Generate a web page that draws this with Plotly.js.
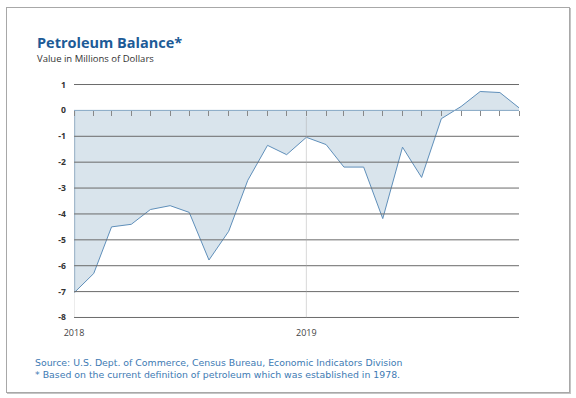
<!DOCTYPE html>
<html>
<head>
<meta charset="utf-8">
<script src="https://cdn.plot.ly/plotly-3.0.1.min.js"></script>
<style>
  html, body { margin: 0; padding: 0; background: #fff; }
  #wrap { position: relative; width: 576px; height: 398px; }
  #chart { position: absolute; left: 0; top: 0; width: 576px; height: 398px; }
  #frame { position: absolute; left: 6px; top: 7px; width: 562px; height: 384px;
           border: 1px solid #a8a8a8; box-shadow: 1px 1px 0 #c4c4c4; pointer-events: none; }
</style>
</head>
<body>
<div id="wrap">
  <div id="chart"></div>
  <div id="frame"></div>
</div>
<script>
// ---- data ----
const months = ['2018-01-01','2018-02-01','2018-03-01','2018-04-01','2018-05-01','2018-06-01',
                '2018-07-01','2018-08-01','2018-09-01','2018-10-01','2018-11-01','2018-12-01',
                '2019-01-01','2019-02-01','2019-03-01','2019-04-01','2019-05-01','2019-06-01',
                '2019-07-01','2019-08-01','2019-09-01','2019-10-01','2019-11-01','2019-12-01'];
const balance = [-7.05, -6.3, -4.5, -4.4, -3.83, -3.68, -3.94, -5.78, -4.67, -2.7, -1.35, -1.71,
                 -1.04, -1.32, -2.19, -2.19, -4.18, -1.42, -2.59, -0.32, 0.15, 0.73, 0.69, 0.1];
const yTicks = [1, 0, -1, -2, -3, -4, -5, -6, -7, -8];
const yearTicks = ['2018-01-01', '2019-01-01'];
const yearLabels = ['2018', '2019'];

// ---- layout helpers ----
const W = 576, H = 398;
const M = {l: 74, r: 57, t: 84, b: 80};
const px = x => (x - M.l) / (W - M.l - M.r);
const py = y => 1 - (y - M.t) / (H - M.t - M.b);
const FONT = 'Open Sans, Noto Sans, sans-serif';
const FOOT_FONT = 'DejaVu Sans, Open Sans, sans-serif';

const traces = [
  {
    x: months, y: balance, type: 'scatter', mode: 'lines',
    fill: 'tozeroy', fillcolor: '#d9e4ec',
    line: {color: '#5f8fba', width: 1}, hoverinfo: 'skip'
  },
  {
    x: [months[0], months[0]], y: [0, balance[0]], type: 'scatter', mode: 'lines',
    line: {color: '#a3bed5', width: 2.5}, hoverinfo: 'skip'
  },
  {
    x: months, y: balance, xaxis: 'x2', type: 'scatter', mode: 'lines',
    line: {width: 0}, opacity: 0, hoverinfo: 'skip'
  }
];

const shapes = [];
yTicks.forEach(v => {
  shapes.push({type: 'line', xref: 'paper', yref: 'y', x0: 0, x1: 1, y0: v, y1: v,
               layer: 'above', line: {color: v === 0 ? '#86a7c4' : '#6a6a6a', width: 1}});
});
yearTicks.forEach(d => {
  shapes.push({type: 'line', xref: 'x', yref: 'y', x0: d, x1: d, y0: -8, y1: -0.25,
               layer: 'above', line: {color: 'rgba(170,170,170,0.45)', width: 1}});
});

const annotations = [
  {text: '<b>Petroleum Balance*</b>', x: px(35), y: py(43), xref: 'paper', yref: 'paper',
   xanchor: 'left', yanchor: 'middle', showarrow: false,
   font: {family: FONT, size: 14.5, color: '#1d5b97'}},
  {text: 'Value in Millions of Dollars', x: px(35), y: py(59), xref: 'paper', yref: 'paper',
   xanchor: 'left', yanchor: 'middle', showarrow: false,
   font: {family: FONT, size: 9.5, color: '#333333'}},
  {text: 'Source: U.S. Dept. of Commerce, Census Bureau, Economic Indicators Division<br>' +
         '* Based on the current definition of petroleum which was established in 1978.',
   x: px(34), y: py(368), xref: 'paper', yref: 'paper', borderpad: 0, align: 'left',
   xanchor: 'left', yanchor: 'middle', showarrow: false,
   font: {family: FOOT_FONT, size: 9.35, color: '#3d7ab3'}}
];

const layout = {
  width: W, height: H,
  margin: M,
  paper_bgcolor: 'rgba(0,0,0,0)', plot_bgcolor: 'rgba(0,0,0,0)',
  showlegend: false,
  xaxis: {
    type: 'date', range: ['2018-01-01', '2019-12-01'],
    tickvals: yearTicks, ticktext: yearLabels,
    showgrid: false, zeroline: false, showline: false, ticks: '',
    ticklabelstandoff: 8,
    tickfont: {family: FONT, size: 9, color: '#444444'}
  },
  xaxis2: {
    type: 'date', overlaying: 'x', anchor: 'free', position: 8.02 / 9.04,
    range: ['2018-01-01', '2019-12-01'],
    tick0: '2018-01-01', dtick: 'M1',
    ticks: 'outside', ticklen: 5, tickwidth: 1, tickcolor: '#888888',
    showticklabels: false, showgrid: false, zeroline: false, showline: false
  },
  yaxis: {
    range: [-8.02, 1.02], tickvals: yTicks, ticktext: yTicks.map(String),
    showgrid: false, zeroline: false, showline: false, ticks: '',
    ticklabelstandoff: 7,
    tickfont: {family: FONT, size: 8.6, color: '#333333', weight: 700}
  },
  shapes: shapes,
  annotations: annotations
};

Plotly.newPlot('chart', traces, layout, {staticPlot: true, displayModeBar: false});
</script>
</body>
</html>
